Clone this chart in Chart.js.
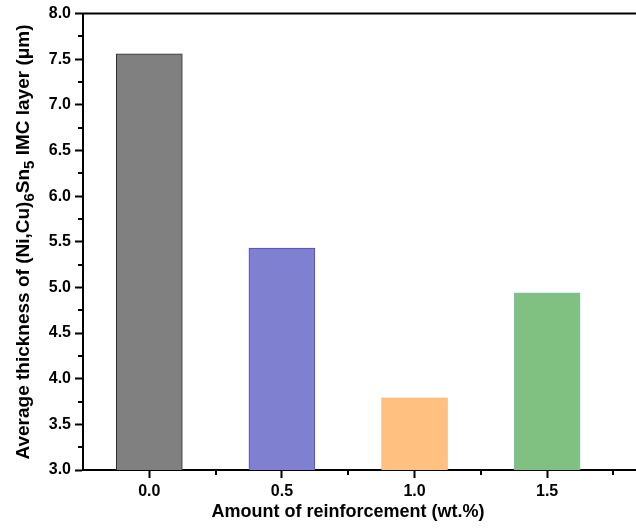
<!DOCTYPE html>
<html lang="en">
<head>
  <meta charset="UTF-8" />
  <title>IMC layer thickness</title>
  <script src="https://cdn.jsdelivr.net/npm/chart.js@4.4.0/dist/chart.umd.min.js"></script>
  <style>
    body { margin: 0; background: #fff; overflow: hidden; }
    #wrap { width: 636px; height: 528px; position: relative; }
  </style>
</head>
<body>
<div id="wrap"><canvas id="chart"></canvas></div>

<script>
  // ── data ─────────────────────────────────────────────
  const amounts    = [0.0, 0.5, 1.0, 1.5];          // wt.%
  const thickness  = [7.56, 5.43, 3.79, 4.94];      // µm
  const xTicks     = [0.0, 0.5, 1.0, 1.5];
  const xMinor     = [0.25, 0.75, 1.25, 1.75];
  const yMinor     = [3.25, 3.75, 4.25, 4.75, 5.25, 5.75, 6.25, 6.75, 7.25, 7.75];
  const barFill    = ['#808080', '#8080d0', '#ffc080', '#80c080'];
  const barEdge    = ['#2e2e2e', '#4b4bc4', '#f7b877', '#7fbfae'];
  const xTitle     = 'Amount of reinforcement (wt.%)';
  // y title pieces: [text, isSubscript]
  const yTitle     = [['Average thickness of (Ni,Cu)', false], ['6', true], ['Sn', false], ['5', true], [' IMC layer (\u03bcm)', false]];

  const FONT = "'Liberation Sans', Arial, sans-serif";

  // frame line on top + minor ticks + axis titles (y one has subscripts)
  const extras = {
    id: 'extras',
    afterDraw(chart) {
      const { ctx, chartArea: a, scales: { x, y } } = chart;
      ctx.save();
      ctx.strokeStyle = '#000';
      ctx.lineWidth = 2;
      ctx.beginPath();
      ctx.moveTo(a.left - 1, a.top);
      ctx.lineTo(chart.width, a.top);
      ctx.stroke();
      // minor ticks
      ctx.beginPath();
      xMinor.forEach(v => {
        const px = Math.round(x.getPixelForValue(v));
        ctx.moveTo(px, a.bottom); ctx.lineTo(px, a.bottom + 5);
      });
      yMinor.forEach(v => {
        const py = Math.round(y.getPixelForValue(v));
        ctx.moveTo(a.left, py); ctx.lineTo(a.left - 5, py);
      });
      ctx.stroke();

      ctx.fillStyle = '#000';
      // x title
      ctx.font = 'bold 18px ' + FONT;
      ctx.textAlign = 'center';
      ctx.textBaseline = 'middle';
      ctx.fillText(xTitle, 348, 512);

      // y title
      ctx.textAlign = 'left';
      ctx.textBaseline = 'alphabetic';
      const big = 'bold 19px ' + FONT, small = 'bold 15px ' + FONT;
      let total = 0;
      yTitle.forEach(([t, sub]) => { ctx.font = sub ? small : big; total += ctx.measureText(t).width; });
      ctx.translate(29, 242);
      ctx.rotate(-Math.PI / 2);
      let cx = -total / 2;
      yTitle.forEach(([t, sub]) => {
        ctx.font = sub ? small : big;
        ctx.fillText(t, cx, sub ? 5 : 0);
        cx += ctx.measureText(t).width;
      });
      ctx.restore();
    }
  };

  new Chart(document.getElementById('chart'), {
    type: 'bar',
    data: {
      datasets: [{
        data: amounts.map((a, i) => ({ x: a, y: thickness[i] })),
        backgroundColor: barFill,
        borderColor: barEdge,
        borderWidth: 1,
        barThickness: 66
      }]
    },
    options: {
      responsive: true,
      maintainAspectRatio: false,
      animation: false,
      layout: { padding: { top: 13, right: 0, left: 0, bottom: 0 } },
      plugins: { legend: { display: false }, tooltip: { enabled: false } },
      scales: {
        x: {
          type: 'linear',
          offset: false,
          min: -0.25,
          max: 1.835,
          afterBuildTicks: s => { s.ticks = xTicks.map(v => ({ value: v })); },
          afterFit: s => { s.height = 58; },
          border: { color: '#000', width: 2 },
          grid: { offset: false, drawOnChartArea: false, color: '#000', tickLength: 8, tickWidth: 2 },
          ticks: {
            color: '#000', padding: 4, maxRotation: 0,
            font: { family: FONT, size: 16, weight: 'bold' },
            callback: v => Number(v).toFixed(1)
          }
        },
        y: {
          min: 3, max: 8,
          afterFit: s => { s.width = 83; },
          border: { color: '#000', width: 2 },
          grid: { drawOnChartArea: false, color: '#000', tickLength: 8, tickWidth: 2 },
          ticks: {
            stepSize: 0.5, color: '#000', padding: 4,
            font: { family: FONT, size: 16, weight: 'bold' },
            callback: v => Number(v).toFixed(1)
          }
        }
      }
    },
    plugins: [extras]
  });
</script>
</body>
</html>
